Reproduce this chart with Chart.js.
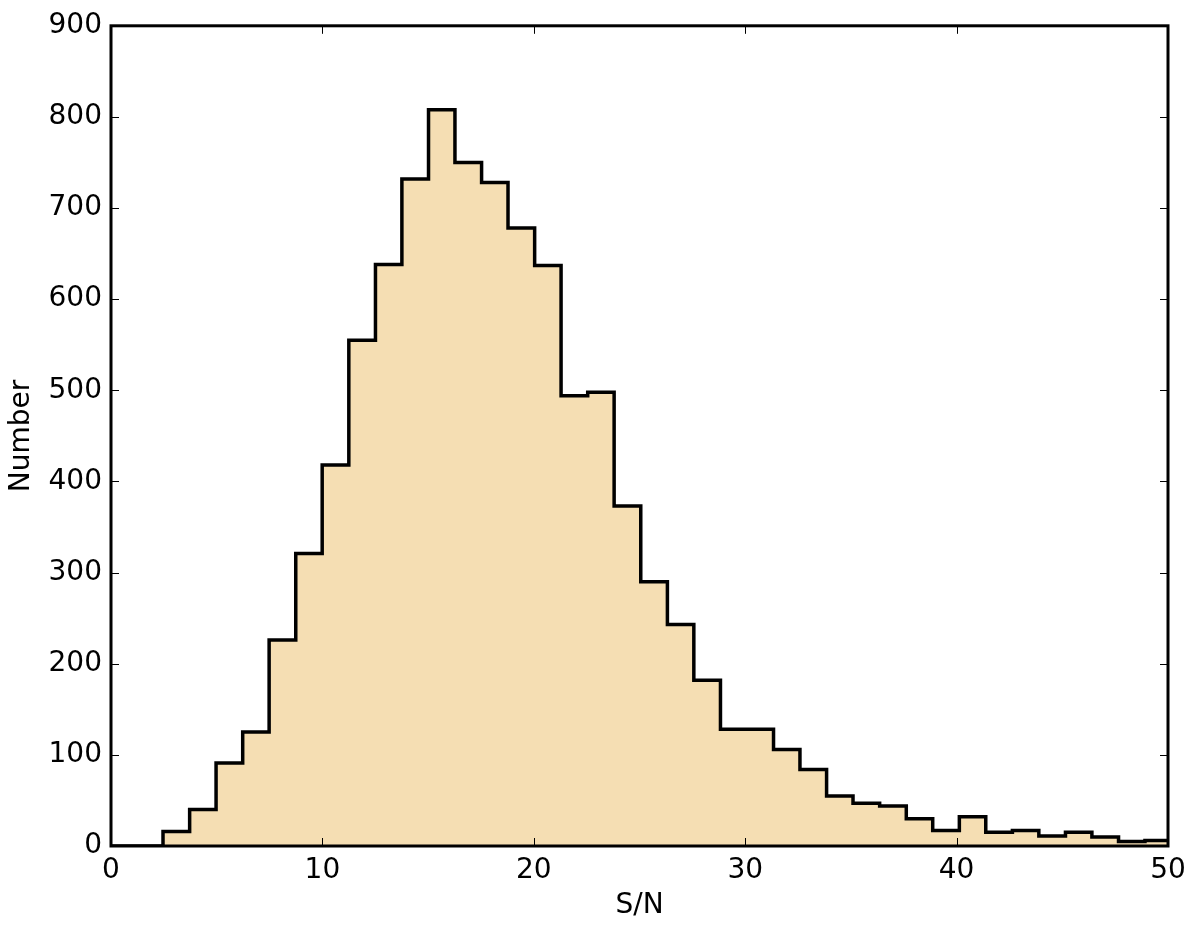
<!DOCTYPE html>
<html>
<head>
<meta charset="utf-8">
<title>S/N histogram</title>
<script src="https://cdn.jsdelivr.net/npm/chart.js@4.4.1/dist/chart.umd.min.js"></script>
<style>
    html, body { margin: 0; padding: 0; background: #fff; }
    #wrap { width: 1200px; height: 925px; }
</style>
</head>
<body>
<div id="wrap"><canvas id="snChart" width="1200" height="925"></canvas></div>
<script>
// bin edges (S/N) and counts per bin
const binEdges = [
    -0.05, 1.21, 2.46, 3.72, 4.97, 6.23, 7.48, 8.74, 9.99, 11.25,
    12.51, 13.76, 15.02, 16.27, 17.53, 18.78, 20.04, 21.29, 22.55, 23.80,
    25.06, 26.32, 27.57, 28.83, 30.08, 31.34, 32.59, 33.85, 35.10, 36.36,
    37.62, 38.87, 40.13, 41.38, 42.64, 43.89, 45.15, 46.40, 47.66, 48.91,
    50.17
];
const binCounts = [
    0, 0, 16, 40, 91, 125, 226, 321, 418, 555,
    638, 732, 808, 750, 728, 678, 637, 494, 498, 373,
    290, 243, 182, 128, 128, 106, 84, 55, 47, 44,
    30, 17, 32, 15, 17, 11, 15, 10, 5, 6
];
const xTicks = [0, 10, 20, 30, 40, 50];
const yTicks = [0, 100, 200, 300, 400, 500, 600, 700, 800, 900];

// step outline: each bin's left edge carries its count, last edge closes the final bin
function buildSteps() {
    const pts = binCounts.map((c, i) => ({ x: binEdges[i], y: c }));
    pts.push({ x: binEdges[binEdges.length - 1], y: binCounts[binCounts.length - 1] });
    return pts;
}

// matplotlib-like frame: full box + inward ticks on all four sides
const framePlugin = {
    id: 'frame',
    afterDatasetsDraw(chart) {
        const { ctx, chartArea: a, scales } = chart;
        ctx.save();
        ctx.strokeStyle = '#000';
        ctx.lineWidth = 1;
        ctx.beginPath();
        xTicks.forEach(v => {
            const px = Math.round(scales.x.getPixelForValue(v)) + 0.5;
            ctx.moveTo(px, a.bottom); ctx.lineTo(px, a.bottom - 8);
            ctx.moveTo(px, a.top); ctx.lineTo(px, a.top + 8);
        });
        yTicks.forEach(v => {
            const py = Math.round(scales.y.getPixelForValue(v)) + 0.5;
            ctx.moveTo(a.left, py); ctx.lineTo(a.left + 8, py);
            ctx.moveTo(a.right, py); ctx.lineTo(a.right - 8, py);
        });
        ctx.stroke();
        ctx.lineWidth = 3;
        ctx.strokeRect(a.left, a.top, a.right - a.left, a.bottom - a.top);
        ctx.restore();
    }
};

Chart.defaults.font.family = '"DejaVu Sans", sans-serif';
Chart.defaults.color = '#000';

const ctx = document.getElementById('snChart').getContext('2d');
new Chart(ctx, {
    type: 'line',
    data: {
        datasets: [{
            label: 'S/N',
            data: buildSteps(),
            stepped: 'before',
            borderColor: '#000',
            borderWidth: 3.5,
            borderJoinStyle: 'miter',
            backgroundColor: '#F5DEB3',
            fill: 'origin',
            pointRadius: 0,
            tension: 0
        }]
    },
    options: {
        responsive: false,
        animation: false,
        events: [],
        layout: { padding: { top: 23, right: 32, bottom: 0, left: 0 } },
        plugins: {
            legend: { display: false },
            tooltip: { enabled: false }
        },
        scales: {
            x: {
                type: 'linear',
                min: 0,
                max: 50,
                afterFit: s => { s.height = 79; },
                afterBuildTicks: s => { s.ticks = xTicks.map(v => ({ value: v })); },
                grid: { display: false, drawTicks: false },
                border: { display: false },
                ticks: { padding: 8, font: { size: 28 }, maxRotation: 0 },
                title: { display: true, text: 'S/N', font: { size: 28 }, padding: { top: 0, bottom: 2 } }
            },
            y: {
                type: 'linear',
                min: 0,
                max: 900,
                afterFit: s => { s.width = 111; },
                afterBuildTicks: s => { s.ticks = yTicks.map(v => ({ value: v })); },
                grid: { display: false, drawTicks: false },
                border: { display: false },
                ticks: { padding: 9, font: { size: 28 } },
                title: { display: true, text: 'Number', font: { size: 28 }, padding: { top: 5, bottom: 0 } }
            }
        }
    },
    plugins: [framePlugin]
});
</script>
</body>
</html>
